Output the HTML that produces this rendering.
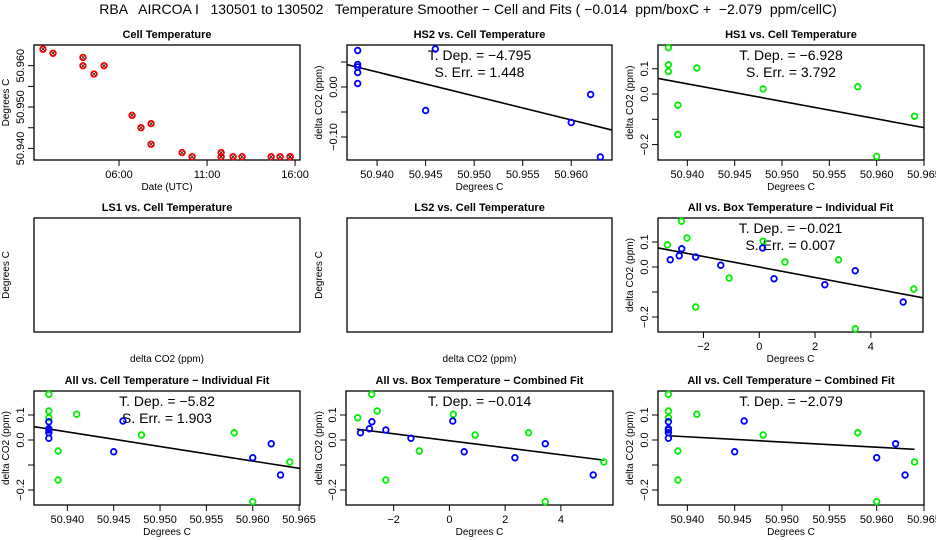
<!DOCTYPE html>
<html><head><meta charset="utf-8"><style>
html,body{margin:0;padding:0;background:#fff;}
svg{display:block;font-family:"Liberation Sans",Arial,sans-serif;}
</style></head><body>
<svg id="chart" width="936" height="540" viewBox="0 0 936 540">
<text x="468" y="14" text-anchor="middle" font-size="14" xml:space="preserve">RBA   AIRCOA I   130501 to 130502   Temperature Smoother − Cell and Fits ( −0.014  ppm/boxC +  −2.079  ppm/cellC)</text>
</svg>
<script>
// Panel 1: time series of cell temperature
const timeHours = [1.68,2.25,3.95,3.95,4.58,5.15,6.74,7.25,7.82,7.82,9.58,10.15,11.8,11.8,12.48,12.99,14.64,15.15,15.72,15.72];
const timeTemps = [50.964,50.963,50.962,50.960,50.958,50.960,50.948,50.945,50.946,50.941,50.939,50.938,50.939,50.938,50.938,50.938,50.938,50.938,50.938,50.938];
// HS2 (blue)
const hs2Cell = [50.938,50.938,50.938,50.938,50.938,50.946,50.945,50.960,50.962,50.963];
const hs2Box  = [-2.78,-2.87,-2.28,-3.19,-1.38,0.12,0.53,2.35,3.44,5.16];
const hs2Val  = [0.073,0.045,0.040,0.029,0.007,0.076,-0.047,-0.071,-0.015,-0.140];
// HS1 (green)
const hs1Cell = [50.938,50.938,50.938,50.939,50.939,50.941,50.948,50.958,50.960,50.964];
const hs1Box  = [-2.79,-2.59,-3.29,-1.08,-2.28,0.14,0.92,2.84,3.44,5.54];
const hs1Val  = [0.183,0.116,0.089,-0.044,-0.160,0.103,0.020,0.029,-0.247,-0.088];
// Fit slopes and reference values
const fitSlopes = [-4.795,-6.928,-0.021,-5.82,-0.014,-2.079];
const fitRefX   = [50.950,50.950,0,50.950,0,50.950];
const fitRefY   = [-0.018,-0.029,0.000,-0.026,-0.003,-0.008];
const fitErrs   = ["1.448","3.792","0.007","1.903",null,null];
const fitLabels = ["−4.795","−6.928","−0.021","−5.82","−0.014","−2.079"];
const tempTicks = [50.940,50.945,50.950,50.955,50.960,50.965];
const tempTickLabels = ["50.940","50.945","50.950","50.955","50.960","50.965"];
const boxTicks = [-2,0,2,4];
const valTicks = [0.1,0,-0.1,-0.2];
const valTickLabels = ["0.1","0.0","","−0.2"];

const svg = document.getElementById('chart');
const NS = 'http://www.w3.org/2000/svg';
function mk(tag, attrs, parent){ const e=document.createElementNS(NS,tag); for(const k in attrs) e.setAttribute(k,attrs[k]); (parent||svg).appendChild(e); return e; }
function txt(x,y,s,size,parent,extra){ const t=mk('text',Object.assign({x:x,y:y,'text-anchor':'middle','font-size':size},extra||{}),parent); t.textContent=s; return t; }

function panel(o){
  const g = mk('g',{});
  
  
  const sx = v => o.x0 + (v - o.xmin)/(o.xmax - o.xmin)*(o.x1 - o.x0);
  const sy = v => o.y1 - (v - o.ymin)/(o.ymax - o.ymin)*(o.y1 - o.y0);
  const r = mk('rect',{x:o.x0,y:o.y0,width:o.x1-o.x0,height:o.y1-o.y0,fill:'none',stroke:'#000','stroke-width':1.3},g);
  
  
  const t = txt((o.x0+o.x1)/2, o.y0-7, o.title, 11, g, {'font-weight':'bold'});
  
  
  const xl = txt((o.x0+o.x1)/2, o.y1+30, o.xlabel, 10, g);
  
  
  const yc=(o.y0+o.y1)/2;
  const ylx=o.ylx;
  const yl = txt(ylx, yc, o.ylabel, 10, g, {transform:`rotate(-90 ${ylx} ${yc})`});
  
  
  if(o.xt){
    const xs=o.xt.map(sx);
    mk('line',{x1:xs[0],x2:xs[xs.length-1],y1:o.y1,y2:o.y1,stroke:'#000'},g);
    o.xt.forEach((v,i)=>{
      mk('line',{x1:sx(v),x2:sx(v),y1:o.y1,y2:o.y1+6,stroke:'#000'},g);
      const l=txt(sx(v),o.y1+18,o.xtl[i],11,g);
      
      
    });
  }
  if(o.yt){
    const ys=o.yt.map(sy);
    mk('line',{x1:o.x0,x2:o.x0,y1:Math.min(...ys),y2:Math.max(...ys),stroke:'#000'},g);
    o.yt.forEach((v,i)=>{
      mk('line',{x1:o.x0-6,x2:o.x0,y1:sy(v),y2:sy(v),stroke:'#000'},g);
      if(o.ytl[i]){
        const lx=o.x0-10, ly=sy(v);
        const l=txt(lx,ly,o.ytl[i],11,g,{transform:`rotate(-90 ${lx} ${ly})`});
        
        
      }
    });
  }
  if(o.fit!=null){
    const k=o.fit;
    const fx0=o.lineX?o.lineX[0]:o.xmin, fx1=o.lineX?o.lineX[1]:o.xmax;
    const f=v=>fitRefY[k]+fitSlopes[k]*(v-fitRefX[k]);
    const ln=mk('line',{x1:sx(fx0),y1:sy(f(fx0)),x2:sx(fx1),y2:sy(f(fx1)),stroke:'#000','stroke-width':1.6},g);
    
    
    const cx=(o.x0+o.x1)/2;
    const a=txt(cx,o.y0+15,'T. Dep. =  '+fitLabels[k],14,g,{'xml:space':'preserve'});
    
    
    if(fitErrs[k]){
      const b=txt(cx,o.y0+32,'S. Err. =  '+fitErrs[k],14,g,{'xml:space':'preserve'});
      
      
    }
  }
  (o.series||[]).forEach(s=>{
    s.xs.forEach((xv,i)=>{
      const c=mk('circle',{cx:sx(xv),cy:sy(s.ys[i]),r:2.8,fill:'none',stroke:s.color,'stroke-width':1.8},g);
      
      
      if(s.cross){
        const X=sx(xv),Y=sy(s.ys[i]);
        mk('path',{d:`M${X-1.6} ${Y-1.6}L${X+1.6} ${Y+1.6}M${X-1.6} ${Y+1.6}L${X+1.6} ${Y-1.6}`,stroke:'#000','stroke-width':0.7},g);
      }
    });
  });
}
const tempLeft=50.9369, tempRight=50.9650;
// Row 1
panel({name:'cell-temperature-panel',title:'Cell Temperature',xlabel:'Date (UTC)',ylabel:'Degrees C',ylx:9,
  x0:34,x1:300,y0:45,y1:160,xmin:1.17,xmax:16.28,ymin:50.9372,ymax:50.965,
  xt:[6,11,16],xtl:['06:00','11:00','16:00'],yt:[50.940,50.945,50.950,50.955,50.960],ytl:['50.940','','50.950','','50.960'],
  series:[{xs:timeHours,ys:timeTemps,color:'#ff0000',name:'cell-temp-point',cross:true}]});
panel({name:'hs2-panel',title:'HS2 vs. Cell Temperature',xlabel:'Degrees C',ylabel:'delta CO2 (ppm)',ylx:322,
  x0:347,x1:612,y0:45,y1:160,xmin:50.9369,xmax:50.9642,ymin:-0.146,ymax:0.084,
  xt:tempTicks.slice(0,5),xtl:tempTickLabels.slice(0,5),yt:[0.05,0,-0.05,-0.1],ytl:['','0.00','','−0.10'],fit:0,
  series:[{xs:hs2Cell,ys:hs2Val,color:'#0000ff',name:'hs2-point'}]});
panel({name:'hs1-panel',title:'HS1 vs. Cell Temperature',xlabel:'Degrees C',ylabel:'delta CO2 (ppm)',ylx:633,
  x0:658,x1:924,y0:45,y1:160,xmin:tempLeft,xmax:tempRight,ymin:-0.261,ymax:0.194,
  xt:tempTicks,xtl:tempTickLabels,yt:valTicks,ytl:valTickLabels,fit:1,
  series:[{xs:hs1Cell,ys:hs1Val,color:'#00ee00',name:'hs1-point'}]});
// Row 2
panel({name:'ls1-panel',title:'LS1 vs. Cell Temperature',xlabel:'delta CO2 (ppm)',ylabel:'Degrees C',ylx:9,
  x0:34,x1:300,y0:218,y1:332,xmin:0,xmax:1,ymin:0,ymax:1});
panel({name:'ls2-panel',title:'LS2 vs. Cell Temperature',xlabel:'delta CO2 (ppm)',ylabel:'Degrees C',ylx:322,
  x0:347,x1:612,y0:218,y1:332,xmin:0,xmax:1,ymin:0,ymax:1});
panel({name:'all-box-individual-panel',title:'All vs. Box Temperature − Individual Fit',xlabel:'Degrees C',ylabel:'delta CO2 (ppm)',ylx:633,
  x0:658,x1:923,y0:218,y1:332,xmin:-3.63,xmax:5.87,ymin:-0.26,ymax:0.196,
  xt:boxTicks,xtl:['−2','0','2','4'],yt:valTicks,ytl:valTickLabels,fit:2,
  series:[{xs:hs1Box,ys:hs1Val,color:'#00ee00',name:'hs1-point'},{xs:hs2Box,ys:hs2Val,color:'#0000ff',name:'hs2-point'}]});
// Row 3
panel({name:'all-cell-individual-panel',title:'All vs. Cell Temperature − Individual Fit',xlabel:'Degrees C',ylabel:'delta CO2 (ppm)',ylx:9,
  x0:34,x1:300,y0:391,y1:505,xmin:50.9364,xmax:50.9651,ymin:-0.26,ymax:0.196,
  xt:tempTicks,xtl:tempTickLabels,yt:valTicks,ytl:valTickLabels,fit:3,
  series:[{xs:hs1Cell,ys:hs1Val,color:'#00ee00',name:'hs1-point'},{xs:hs2Cell,ys:hs2Val,color:'#0000ff',name:'hs2-point'}]});
panel({name:'all-box-combined-panel',title:'All vs. Box Temperature − Combined Fit',xlabel:'Degrees C',ylabel:'delta CO2 (ppm)',ylx:322,
  x0:346,x1:613,y0:391,y1:505,xmin:-3.71,xmax:5.87,ymin:-0.26,ymax:0.196,
  xt:boxTicks,xtl:['−2','0','2','4'],yt:valTicks,ytl:valTickLabels,fit:4,lineX:[-3.32,5.54],
  series:[{xs:hs1Box,ys:hs1Val,color:'#00ee00',name:'hs1-point'},{xs:hs2Box,ys:hs2Val,color:'#0000ff',name:'hs2-point'}]});
panel({name:'all-cell-combined-panel',title:'All vs. Cell Temperature − Combined Fit',xlabel:'Degrees C',ylabel:'delta CO2 (ppm)',ylx:633,
  x0:658,x1:924,y0:391,y1:505,xmin:tempLeft,xmax:tempRight,ymin:-0.26,ymax:0.196,
  xt:tempTicks,xtl:tempTickLabels,yt:valTicks,ytl:valTickLabels,fit:5,lineX:[50.938,50.964],
  series:[{xs:hs1Cell,ys:hs1Val,color:'#00ee00',name:'hs1-point'},{xs:hs2Cell,ys:hs2Val,color:'#0000ff',name:'hs2-point'}]});
</script>
</body></html>
